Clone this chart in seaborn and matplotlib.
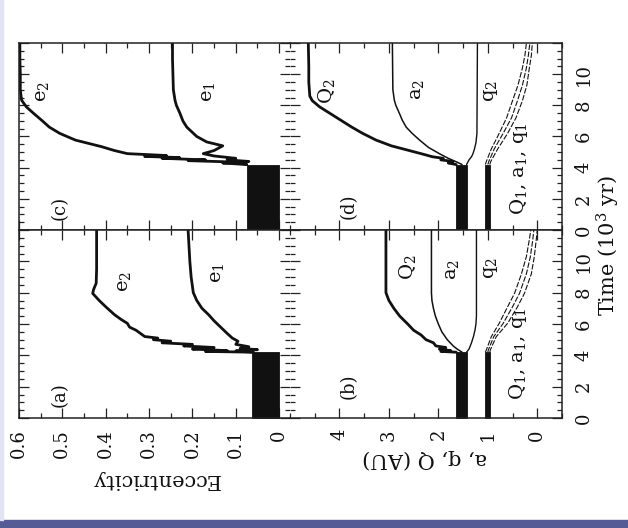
import matplotlib
matplotlib.use("Agg")
import matplotlib.pyplot as plt
import seaborn as sns
from matplotlib.ticker import MultipleLocator, FixedLocator, FuncFormatter
from matplotlib.patches import Rectangle

# ---------------------------------------------------------------- data
# time in units of 10^3 yr; early phase (0 - 4.2) is a fast oscillation
# drawn as its envelope
band_t = [0.0, 4.2]
ecc_band_a = [0.0, 0.062]
ecc_band_c = [0.0, 0.075]
outer_band = [1.43, 1.64]   # q2 .. Q2 range
inner_band = [0.96, 1.05]   # q1 .. Q1 range

# panel (a): eccentricities
e2a_t = [4.2, 4.25, 4.3, 4.4, 4.5, 4.6, 4.7, 4.8, 4.9, 5.0, 5.1, 5.2, 5.4, 5.6, 5.8,
         6.04, 6.3, 6.6, 7.1, 7.5, 7.95, 8.2, 8.6, 9.5, 10.5, 12.0]
e2a_v = [0.06, 0.17, 0.12, 0.20, 0.15, 0.22, 0.20, 0.27, 0.25, 0.29, 0.28, 0.31, 0.32,
         0.33, 0.345, 0.35, 0.365, 0.38, 0.40, 0.415, 0.43, 0.428, 0.422, 0.421, 0.421, 0.421]
e1a_t = [4.2, 4.28, 4.36, 4.45, 4.55, 4.7, 4.9, 5.1, 5.4, 5.8, 6.2, 6.6, 7.0, 7.5,
         8.0, 9.0, 10.0, 11.0, 12.0]
e1a_v = [0.06, 0.10, 0.05, 0.09, 0.07, 0.10, 0.095, 0.108, 0.12, 0.135, 0.15, 0.163,
         0.178, 0.19, 0.198, 0.203, 0.206, 0.208, 0.21]

# panel (c): eccentricities
e2c_t = [4.2, 4.3, 4.35, 4.45, 4.5, 4.6, 4.65, 4.72, 4.78, 4.9, 5.1, 5.35, 5.77, 6.2,
         6.6, 7.05, 7.5, 7.9, 8.33, 9.0, 10.0, 11.0, 12.0]
e2c_v = [0.075, 0.13, 0.09, 0.21, 0.17, 0.27, 0.23, 0.31, 0.26, 0.35, 0.38, 0.41,
         0.47, 0.506, 0.53, 0.548, 0.567, 0.583, 0.594, 0.597, 0.597, 0.598, 0.598]
e1c_t = [4.2, 4.3, 4.4, 4.5, 4.6, 4.75, 4.9, 5.1, 5.4, 5.65, 6.0, 6.6, 7.0, 7.5,
         8.0, 8.3, 9.0, 10.0, 11.0, 12.0]
e1c_v = [0.075, 0.09, 0.07, 0.12, 0.10, 0.15, 0.175, 0.15, 0.13, 0.167, 0.19, 0.213,
         0.222, 0.229, 0.237, 0.24, 0.244, 0.245, 0.246, 0.246]

# panel (b): orbital distances (AU)
Q2b_t = [4.2, 4.25, 4.3, 4.4, 4.5, 4.6, 4.8, 5.0, 5.3, 5.6, 6.0, 6.5, 7.0, 7.5, 8.0,
         9.0, 10.0, 11.0, 12.0]
Q2b_v = [1.64, 1.95, 1.75, 1.98, 1.85, 2.05, 2.10, 2.25, 2.35, 2.50, 2.62, 2.78,
         2.90, 3.00, 3.06, 3.06, 3.06, 3.06, 3.06]
a2b_t = [4.2, 4.4, 4.6, 5.0, 5.5, 6.0, 6.5, 7.0, 7.5, 8.0, 9.0, 12.0]
a2b_v = [1.52, 1.62, 1.70, 1.82, 1.93, 2.00, 2.06, 2.10, 2.13, 2.14, 2.14, 2.14]
q2b_t = [4.2, 4.4, 4.8, 5.2, 5.6, 6.0, 6.5, 12.0]
q2b_v = [1.43, 1.38, 1.33, 1.29, 1.26, 1.24, 1.23, 1.23]
Q1b_t = [4.2, 4.34, 5.19, 6.04, 7.1, 7.95, 9.2, 10.3, 11.4, 12.0]
Q1b_v = [1.05, 1.03, 0.93, 0.77, 0.60, 0.46, 0.32, 0.22, 0.16, 0.13]
a1b_v = [1.00, 0.99, 0.88, 0.69, 0.50, 0.36, 0.22, 0.14, 0.09, 0.07]
q1b_v = [0.96, 0.95, 0.83, 0.60, 0.40, 0.26, 0.12, 0.06, 0.02, 0.00]

# panel (d): orbital distances (AU)
Q2d_t = [4.2, 4.3, 4.4, 4.5, 4.6, 4.7, 4.9, 5.1, 5.4, 5.77, 6.2, 6.6, 7.1, 7.5, 7.9,
         8.3, 8.6, 9.5, 10.5, 12.0]
Q2d_v = [1.64, 1.80, 1.70, 1.95, 1.90, 2.12, 2.35, 2.59, 2.95, 3.26, 3.53, 3.75,
         4.00, 4.20, 4.40, 4.55, 4.60, 4.62, 4.62, 4.63]
a2d_t = [4.2, 4.35, 4.6, 4.9, 5.3, 5.77, 6.2, 6.6, 7.05, 7.5, 8.0, 8.33, 9.0, 12.0]
a2d_v = [1.52, 1.62, 1.80, 1.98, 2.20, 2.38, 2.53, 2.65, 2.73, 2.79, 2.86, 2.89,
         2.92, 2.93]
q2d_t = [4.2, 4.5, 4.7, 4.9, 5.2, 5.6, 6.2, 12.0]
q2d_v = [1.43, 1.38, 1.33, 1.30, 1.27, 1.24, 1.22, 1.21]
Q1d_t = [4.2, 4.4, 5.2, 6.2, 7.2, 8.3, 9.3, 10.4, 11.2, 12.0]
Q1d_v = [1.05, 1.03, 0.93, 0.77, 0.62, 0.50, 0.39, 0.30, 0.25, 0.22]
a1d_v = [1.00, 0.98, 0.87, 0.69, 0.52, 0.40, 0.30, 0.22, 0.18, 0.15]
q1d_v = [0.96, 0.94, 0.80, 0.60, 0.43, 0.30, 0.21, 0.16, 0.12, 0.10]

ecc_ticks = [0.0, 0.1, 0.2, 0.3, 0.4, 0.5, 0.6]
dist_ticks = [0, 1, 2, 3, 4]
time_ticks = [0, 2, 4, 6, 8, 10, 12]

# ---------------------------------------------------------------- figure
sns.set_theme(style="ticks")
plt.rcParams["font.family"] = ["DejaVu Serif"]
plt.rcParams["mathtext.fontset"] = "dejavuserif"

W, H = 628, 528
fig = plt.figure(figsize=(W / 100, H / 100), dpi=100)
fig.patch.set_facecolor("white")


def px_axes(x0, y0, x1, y1):
    return fig.add_axes([x0 / W, 1 - y1 / H, (x1 - x0) / W, (y1 - y0) / H])


ax_c = px_axes(19, 43, 290, 230)
ax_a = px_axes(19, 230, 290, 418)
ax_d = px_axes(290, 43, 562, 230)
ax_b = px_axes(290, 230, 562, 418)

INK = "#111111"


def trace(ax, t, v, lw=1.8, ls="-"):
    sns.lineplot(x=v, y=t, sort=False, estimator=None, color=INK,
                 linewidth=lw, linestyle=ls, ax=ax)


def band(ax, lohi):
    ax.fill_betweenx(band_t, [lohi[0]] * 2, [lohi[1]] * 2, color=INK, lw=0.6)


def style(ax, kind, bottom_labels, right_labels):
    ax.set_facecolor("white")
    ax.set_ylim(0, 12)
    if kind == "ecc":
        ax.set_xlim(0.6, -0.025)
        ax.xaxis.set_major_locator(FixedLocator(ecc_ticks))
        ax.xaxis.set_minor_locator(MultipleLocator(0.05))
        ax.xaxis.set_major_formatter(
            FuncFormatter(lambda v, p: "0" if abs(v) < 1e-9 else f"{v:.1f}"))
        ax.spines["right"].set_visible(False)
    else:
        ax.set_xlim(5.0, -0.5)
        ax.xaxis.set_major_locator(FixedLocator(dist_ticks))
        ax.xaxis.set_minor_locator(MultipleLocator(0.5))
        ax.xaxis.set_major_formatter(FuncFormatter(lambda v, p: f"{v:.0f}"))
        ax.spines["left"].set_visible(False)
    ax.yaxis.set_major_locator(FixedLocator(time_ticks))
    ax.yaxis.set_minor_locator(MultipleLocator(0.5))
    ax.yaxis.set_major_formatter(
        FuncFormatter(lambda v, p: "" if v > 11 else f"{v:.0f}"))
    for s in ax.spines.values():
        s.set_color("#222222")
        s.set_linewidth(1.1)
    ax.tick_params(which="both", direction="in", top=True, bottom=True,
                   left=True, right=True, color="#222222", width=0.9,
                   labelbottom=bottom_labels, labeltop=False,
                   labelleft=False, labelright=right_labels)
    ax.tick_params(which="major", length=7)
    ax.tick_params(which="minor", length=3.5)
    ax.tick_params(axis="x", labelrotation=90, labelsize=13, pad=8,
                   labelcolor=INK)
    ax.tick_params(axis="y", labelrotation=90, labelsize=13, pad=9,
                   labelcolor=INK)
    for lab in ax.get_yticklabels():
        lab.set_verticalalignment("center")
    ax.set_xlabel("")
    ax.set_ylabel("")


# eccentricity panels
band(ax_a, ecc_band_a)
trace(ax_a, e2a_t, e2a_v, lw=2.0)
trace(ax_a, e1a_t, e1a_v, lw=2.0)
band(ax_c, ecc_band_c)
trace(ax_c, e2c_t, e2c_v, lw=2.0)
trace(ax_c, e1c_t, e1c_v, lw=2.0)

# distance panels
for ax, Qt, Qv, at, av, qt, qv, pt, P1 in [
        (ax_b, Q2b_t, Q2b_v, a2b_t, a2b_v, q2b_t, q2b_v, Q1b_t,
         (Q1b_v, a1b_v, q1b_v)),
        (ax_d, Q2d_t, Q2d_v, a2d_t, a2d_v, q2d_t, q2d_v, Q1d_t,
         (Q1d_v, a1d_v, q1d_v))]:
    band(ax, outer_band)
    band(ax, inner_band)
    trace(ax, Qt, Qv, lw=2.0)
    trace(ax, at, av, lw=1.1)
    trace(ax, qt, qv, lw=1.0)
    for vals in P1:
        trace(ax, pt, vals, lw=0.8, ls=(0, (5, 1.5)))

style(ax_c, "ecc", False, False)
style(ax_a, "ecc", True, False)
style(ax_d, "dist", False, True)
style(ax_b, "dist", True, True)

# curve and panel annotations (rotated with the page)
rot = dict(rotation=90, ha="center", va="center", rotation_mode="anchor",
           color=INK)
ax_c.text(0.546, 8.9, "e$_2$", fontsize=14, **rot)
ax_c.text(0.164, 8.9, "e$_1$", fontsize=14, **rot)
ax_c.text(0.506, 1.4, "(c)", fontsize=13, **rot)
ax_a.text(0.358, 8.7, "e$_2$", fontsize=14, **rot)
ax_a.text(0.143, 9.3, "e$_1$", fontsize=14, **rot)
ax_a.text(0.506, 1.47, "(a)", fontsize=13, **rot)
ax_b.text(2.63, 9.6, "Q$_2$", fontsize=14, **rot)
ax_b.text(1.72, 9.5, "a$_2$", fontsize=14, **rot)
ax_b.text(0.93, 9.6, "q$_2$", fontsize=14, **rot)
ax_b.text(0.38, 4.1, "Q$_1$, a$_1$, q$_1$", fontsize=14, **rot)
ax_b.text(3.82, 2.0, "(b)", fontsize=13, **rot)
ax_d.text(4.26, 8.9, "Q$_2$", fontsize=14, **rot)
ax_d.text(2.44, 9.0, "a$_2$", fontsize=14, **rot)
ax_d.text(0.93, 8.9, "q$_2$", fontsize=14, **rot)
ax_d.text(0.36, 3.9, "Q$_1$, a$_1$, q$_1$", fontsize=14, **rot)
ax_d.text(3.82, 1.5, "(d)", fontsize=13, **rot)

# axis titles
fig.text(155 / W, 1 - 479 / H, "Eccentricity", rotation=180, ha="center",
         va="center", fontsize=15, color=INK)
fig.text(425 / W, 1 - 459 / H, "a, q, Q (AU)", rotation=180, ha="center",
         va="center", fontsize=15, color=INK)
fig.text(608 / W, 1 - 245 / H, "Time (10$^3$ yr)", rotation=90, ha="center",
         va="center", fontsize=15, color=INK)

# page edge
fig.patches.append(Rectangle((0, 0), 1, 8 / H, transform=fig.transFigure,
                             color="#555b95", zorder=0))
fig.patches.append(Rectangle((0, 8 / H), 3 / W, 1 - 8 / H,
                             transform=fig.transFigure, color="#e2e4f3",
                             zorder=0))

fig.savefig("out.png", dpi=100, facecolor="white")
